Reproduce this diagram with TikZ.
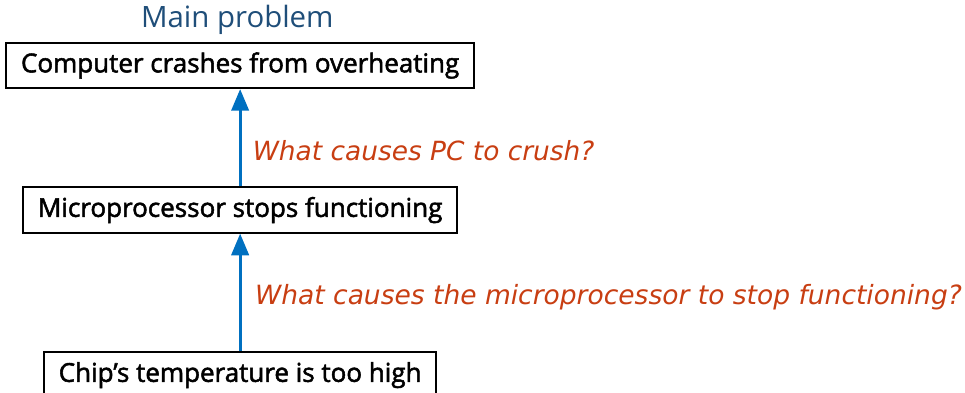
\documentclass[tikz,border=0pt]{standalone}
\usepackage{fontspec}
\usepackage{xcolor}
\usepackage{tikz}
\usetikzlibrary{shapes.geometric, arrows}
\setmainfont{Open Sans}
\newfontfamily\boxfont{Open Sans}[FakeBold=2]
\newfontfamily\askfont{DejaVu Sans}
\definecolor{titleblue}{RGB}{31,78,121}
\definecolor{arrowblue}{RGB}{0,112,192}
\definecolor{askred}{RGB}{200,62,18}
\tikzstyle{problem} = [rectangle, minimum height=0.8cm, inner xsep=0.26cm, text centered, draw = black, line width=1pt, font=\boxfont\fontsize{13}{15}\selectfont]
\tikzstyle{question} = [right, text=askred, font=\askfont\itshape\fontsize{13.2}{15}\selectfont]
\tikzstyle{arrow} = [->,>=triangle 45, draw=arrowblue, line width=1.5pt]

\begin{document}
\begin{tikzpicture}
        \useasboundingbox (0,0) rectangle (16.958,-6.889);
        \node[problem] (crash) at (4.22,-1.151) {Computer crashes from overheating};
        \node[below of=crash, yshift=-1.54cm, problem] (micro) {Microprocessor stops functioning};
        \node[below of=micro, yshift=-1.9cm, minimum height=0.84cm, problem] (chip) {Chip’s temperature is too high};
        \node[above of=crash, yshift=-0.2cm, xshift=-0.05cm, text=titleblue, font=\fontsize{14.7}{17}\selectfont] (main) {Main problem};

        \draw [arrow] (micro) -- node[question, pos=0.37, xshift=0.08cm] (ask1) {What causes PC to crush?} (crash);
        \draw [arrow] (chip) -- node[question, pos=0.46, xshift=0.12cm, font=\askfont\itshape\fontsize{13.25}{15}\selectfont] (ask2) {What causes the microprocessor to stop functioning?} (micro);
    \end{tikzpicture}
\end{document}
